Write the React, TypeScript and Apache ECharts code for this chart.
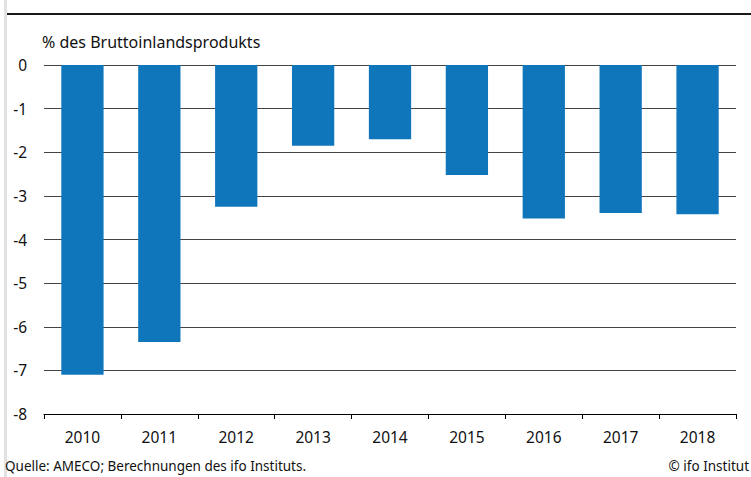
import React, { useEffect, useRef } from "react";
import * as echarts from "echarts";

const years = ["2010", "2011", "2012", "2013", "2014", "2015", "2016", "2017", "2018"];
const values = [-7.1, -6.35, -3.25, -1.85, -1.7, -2.52, -3.52, -3.39, -3.42];
const unitLabel = "% des Bruttoinlandsprodukts";
const sourceLabel = "Quelle: AMECO; Berechnungen des ifo Instituts.";
const copyrightLabel = "© ifo Institut";

const FONT = "'Noto Sans', sans-serif";

export default function App() {
  const ref = useRef<HTMLDivElement>(null);
  useEffect(() => {
    if (!ref.current) return;
    const chart = echarts.init(ref.current, null, { renderer: "svg" });
    chart.setOption({
      animation: false,
      backgroundColor: "#ffffff",
      textStyle: { fontFamily: FONT },
      grid: { left: 44, right: 15, top: 65, bottom: 63 },
      xAxis: {
        type: "category",
        data: years,
        axisLine: { onZero: false, lineStyle: { color: "#000", width: 1 } },
        axisTick: { show: true, length: 5, alignWithLabel: false, lineStyle: { color: "#000" } },
        axisLabel: { color: "#111", fontSize: 15.5, fontFamily: FONT, margin: 15 },
      },
      yAxis: {
        type: "value",
        min: -8,
        max: 0,
        interval: 1,
        axisLine: { show: false },
        axisTick: { show: false },
        axisLabel: { color: "#111", fontSize: 15.5, fontFamily: FONT, margin: 17 },
        splitLine: { lineStyle: { color: "#444", width: 1 } },
      },
      series: [
        {
          type: "bar",
          data: values,
          barWidth: "55%",
          itemStyle: { color: "#1076bc" },
        },
      ],
      graphic: [
        { type: "rect", shape: { x: 4, y: 0, width: 3, height: 477 }, style: { fill: "#e2e2e2" } },
        { type: "rect", shape: { x: 7, y: 13, width: 744, height: 2 }, style: { fill: "#1a1a1a" } },
        {
          type: "text",
          left: 42,
          top: 34,
          style: { text: unitLabel, fontSize: 16, fontFamily: FONT, fill: "#111" },
        },
        {
          type: "text",
          left: 5,
          top: 459,
          style: { text: sourceLabel, fontSize: 13.5, fontFamily: FONT, fill: "#111" },
        },
        {
          type: "text",
          right: 2,
          top: 459,
          style: { text: copyrightLabel, fontSize: 13.5, fontFamily: FONT, fill: "#111" },
        },
      ],
    });
    return () => chart.dispose();
  }, []);
  return (
    <div
      ref={ref}
      style={{ position: "fixed", left: 0, top: 0, width: 751, height: 477 }}
    />
  );
}
